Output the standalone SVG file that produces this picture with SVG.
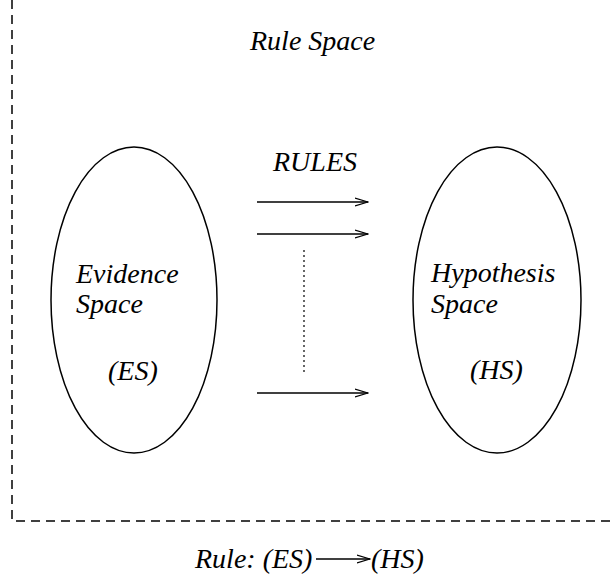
<svg xmlns="http://www.w3.org/2000/svg" width="612" height="576" viewBox="0 0 612 576">
<style>
text{font-family:"Liberation Serif","Times New Roman",serif;font-style:italic;font-size:28px;fill:#000}
.sp{fill:none;stroke:#000;stroke-width:1.5}
.ar{fill:none;stroke:#000;stroke-width:1.4}
.bd{fill:none;stroke:#000;stroke-width:1.5;stroke-dasharray:9 6}
</style>
<defs>
<marker id="ah" viewBox="0 0 14 10" refX="13" refY="5" markerWidth="14" markerHeight="10" markerUnits="userSpaceOnUse" orient="auto">
<path d="M0,1 L13,5 L0,9" fill="none" stroke="#000" stroke-width="1.3"/>
</marker>
</defs>
<g id="border">
<path class="bd" d="M12,0 V521 H612"/>
</g>
<text x="250" y="50">Rule Space</text>
<g id="evidence">
<ellipse class="sp" cx="134" cy="300" rx="83" ry="153"/>
<text x="76" y="283">Evidence</text>
<text x="76" y="313">Space</text>
<text x="108" y="380">(ES)</text>
</g>
<g id="hypothesis">
<ellipse class="sp" cx="497" cy="300" rx="84" ry="153"/>
<text x="431" y="282">Hypothesis</text>
<text x="431" y="313">Space</text>
<text x="470" y="379">(HS)</text>
</g>
<g id="connectors">
<text x="273" y="171">RULES</text>
<line class="ar" x1="257" y1="202" x2="368" y2="202" marker-end="url(#ah)"/>
<line class="ar" x1="257" y1="234" x2="368" y2="234" marker-end="url(#ah)"/>
<line class="ar" x1="257" y1="393" x2="368" y2="393" marker-end="url(#ah)"/>
<line x1="304" y1="250" x2="304" y2="372" stroke="#000" stroke-width="1.2" stroke-dasharray="2 3"/>
</g>
<g id="legend">
<text x="195" y="568">Rule: (ES)</text>
<line class="ar" x1="316" y1="559" x2="370" y2="559" marker-end="url(#ah)"/>
<text x="371" y="568">(HS)</text>
</g>
</svg>
